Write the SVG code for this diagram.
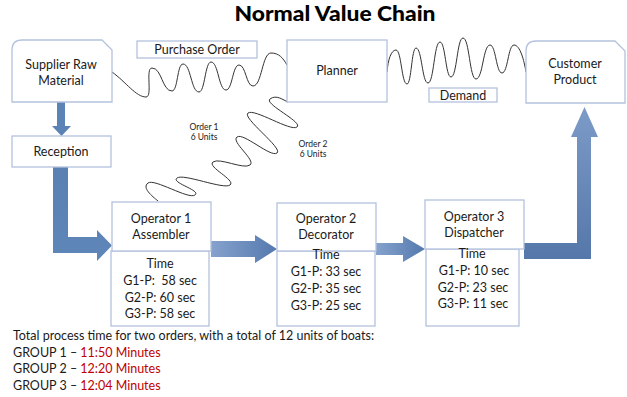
<svg xmlns="http://www.w3.org/2000/svg" width="627" height="397" viewBox="0 0 627 397">
<defs>
<style>
.box{fill:#fff;stroke:#B4C2DE;stroke-width:1.3}
.t{font-family:Lato,"Liberation Sans",sans-serif;font-size:12.5px;fill:#1a1a1a;text-anchor:middle}
.s{font-family:Lato,"Liberation Sans",sans-serif;font-size:8.5px;fill:#1a1a1a;text-anchor:middle}
.b{font-family:Lato,"Liberation Sans",sans-serif;font-size:12.5px;fill:#1a1a1a}
.r{fill:#C00000}
.wave{fill:none;stroke:#333;stroke-width:1}
.pre{white-space:pre}
</style>
<linearGradient id="gh" x1="0" y1="0" x2="1" y2="0">
<stop offset="0" stop-color="#86A2CD"/><stop offset="1" stop-color="#5479AE"/>
</linearGradient>
<linearGradient id="gv" x1="0" y1="0" x2="0" y2="1">
<stop offset="0" stop-color="#7D9BC8"/><stop offset="1" stop-color="#5577A9"/>
</linearGradient>
<linearGradient id="gl" x1="0" y1="0" x2="0" y2="1">
<stop offset="0" stop-color="#5A80B3"/><stop offset="1" stop-color="#5F86B8"/>
</linearGradient>
</defs>
<rect width="627" height="397" fill="#fff"/>

<text x="335" y="21" font-family="Lato,'DejaVu Sans',sans-serif" font-size="20" font-weight="900" text-anchor="middle" fill="#000" textLength="201" lengthAdjust="spacingAndGlyphs">Normal Value Chain</text>

<g id="connectors">
<path class="wave" d="M112,72 C126,82 136,97 146,97 C153,97 145,68 152,68 C162,68 162,91 172,91 C178,91 177,64 183,64 C191,64 191,92 199,92 C205,92 205,62 211,62 C218.5,62 218.5,90 226,90 C232.5,90 232.5,65 239,65 C246,65 246,86 253,86 C262,86 262,53 271,53 C279,53 283,58 287,65"/>
<path class="wave" d="M387,72 C388,60 391,50 396,50 C401.5,50 401.5,84 407,84 C411.5,84 411.5,48 416,48 C422,48 422,83 428,83 C434,83 434,42 440,42 C445.5,42 445.5,77 451,77 C457,77 457,38 463,38 C469.5,38 469.5,79 476,79 C483,79 483,45 490,45 C496,45 496,73 502,73 C508,73 508,45 514,45 C520,45 524,60 526,72"/>
<path class="wave" d="M288,102 C283,100 276.4,94.2 270,99 C263.6,103.8 303.4,122.2 297,127 C290.6,131.8 254.4,108.2 248,113 C241.6,117.8 283.4,148.2 277,153 C270.6,157.8 243.4,132.2 237,137 C230.6,141.8 256.4,160.2 250,165 C243.6,169.8 219.4,157.2 213,162 C206.6,166.8 236.4,180.2 230,185 C223.6,189.8 183.4,173.2 177,178 C170.6,182.8 201.4,190.2 195,195 C188.6,199.8 154.4,178.2 148,183 C141.6,187.8 152,196 158,201"/>
<path fill="#5B83B6" d="M57,102 H65 V126 H71 L61.5,136 L52,126 H57 Z"/>
<path fill="url(#gl)" d="M53,167 H68 V237 H97 V230 L112,245.5 L97,261 V253 H53 Z"/>
<path fill="url(#gh)" d="M211,241 H255 V235 L277,249 L255,263 V257 H211 Z"/>
<path fill="url(#gh)" d="M376,243 H403 V236 L425,249 L403,262 V255 H376 Z"/>
<path fill="url(#gv)" d="M524,243 H577 V137 H571 L584.5,107 L598,137 H591 V259 H524 Z"/>
</g>

<g id="supplier">
<path class="box" d="M12,102 V50 Q12,40 22,40 H102 L112,50 V102 Z"/>
<text class="t" x="61" y="69">Supplier Raw</text>
<text class="t" x="61" y="85">Material</text>
</g>
<g id="purchase-order">
<rect class="box" x="137" y="41" width="120" height="17"/>
<text class="t" x="197" y="54">Purchase Order</text>
</g>
<g id="planner">
<rect class="box" x="287" y="40" width="100" height="62"/>
<text class="t" x="337" y="75">Planner</text>
</g>
<g id="customer">
<path class="box" d="M526,103 V51 Q526,41 536,41 H615 L625,51 V103 Z"/>
<text class="t" x="575" y="68">Customer</text>
<text class="t" x="575" y="84">Product</text>
</g>
<g id="demand">
<rect class="box" x="429" y="88" width="68" height="14"/>
<text class="t" x="463" y="99.5">Demand</text>
</g>
<g id="reception">
<rect class="box" x="12" y="136" width="99" height="31"/>
<text class="t" x="61" y="156">Reception</text>
</g>
<g id="order1">
<text class="s" x="204" y="130">Order 1</text>
<text class="s" x="204" y="140">6 Units</text>
</g>
<g id="order2">
<text class="s" x="313" y="147">Order 2</text>
<text class="s" x="313" y="157">6 Units</text>
</g>
<g id="operator1">
<rect class="box" x="111" y="251" width="98" height="75"/>
<rect class="box" x="112" y="202" width="99" height="49"/>
<text class="t" x="161" y="223">Operator 1</text>
<text class="t" x="161" y="239">Assembler</text>
<text class="t" x="160" y="268">Time</text>
<text class="t pre" x="160" y="285">G1-P:  58 sec</text>
<text class="t" x="160" y="302">G2-P: 60 sec</text>
<text class="t" x="160" y="318">G3-P: 58 sec</text>
</g>
<g id="operator2">
<rect class="box" x="277" y="251" width="98" height="75"/>
<rect class="box" x="277" y="203" width="99" height="48"/>
<text class="t" x="326" y="223">Operator 2</text>
<text class="t" x="326" y="239">Decorator</text>
<text class="t" x="326" y="259">Time</text>
<text class="t" x="326" y="276">G1-P: 33 sec</text>
<text class="t" x="326" y="293">G2-P: 35 sec</text>
<text class="t" x="326" y="310">G3-P: 25 sec</text>
</g>
<g id="operator3">
<rect class="box" x="426" y="249" width="93" height="77"/>
<rect class="box" x="425" y="200" width="99" height="49"/>
<text class="t" x="474" y="221">Operator 3</text>
<text class="t" x="474" y="237">Dispatcher</text>
<text class="t" x="472" y="258">Time</text>
<text class="t" x="474" y="275">G1-P: 10 sec</text>
<text class="t" x="473" y="292">G2-P: 23 sec</text>
<text class="t" x="473" y="308">G3-P: 11 sec</text>
</g>
<g id="summary">
<text class="b" x="13" y="340">Total process time for two orders, with a total of 12 units of boats:</text>
<text class="b" x="13" y="357">GROUP 1 – <tspan class="r">11:50 Minutes</tspan></text>
<text class="b" x="13" y="373">GROUP 2 – <tspan class="r">12:20 Minutes</tspan></text>
<text class="b" x="13" y="390">GROUP 3 – <tspan class="r">12:04 Minutes</tspan></text>
</g>
</svg>
